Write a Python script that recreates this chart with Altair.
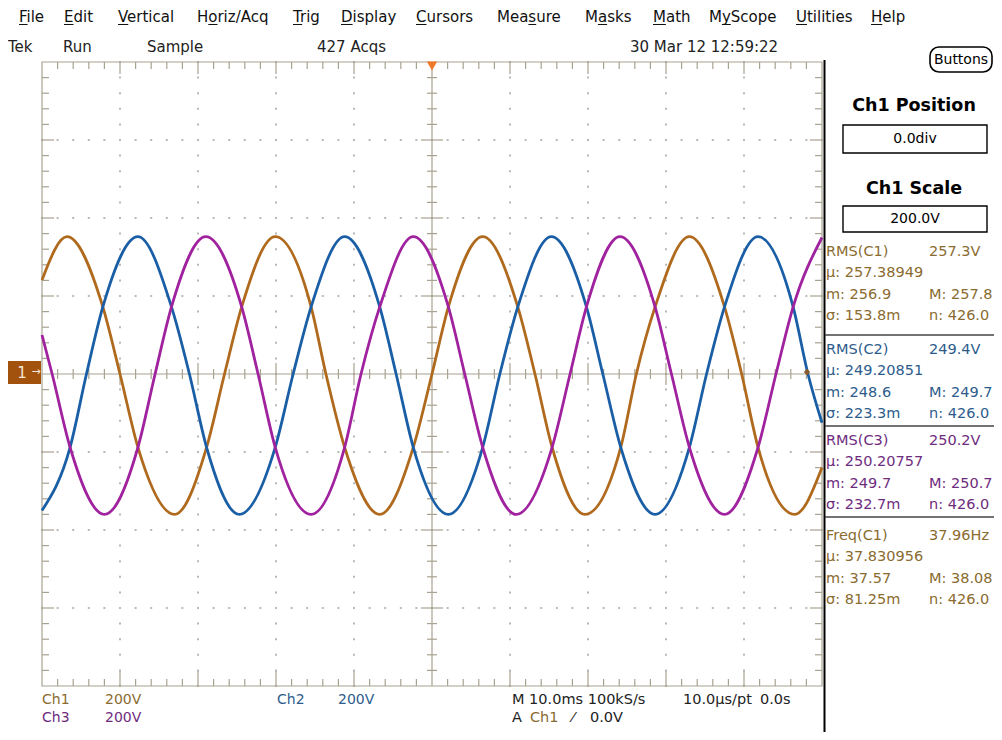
import altair as alt
import numpy as np
import pandas as pd

# ---------------- waveform readings (time in ms, amplitude in V) ----------------
ch1_t = [-50.0, -46.8, -42.2, -40.0, -37.7, -33.0, -28.9, -26.6, -24.4, -20.1,
         -15.5, -13.6, -11.2, -6.7, -2.4, 0.0, 2.1, 6.5, 11.0, 13.2,
         15.4, 19.6, 24.2, 26.2, 28.6, 33.0, 37.5, 39.7, 41.8, 46.5, 50.0]
ch1_v = [241, 352, 172, 0, -188, -360, -188, 0, 172, 352,
         172, 0, -188, -360, -188, 0, 172, 352, 172, 0,
         -188, -360, -188, 0, 172, 352, 172, 0, -188, -360, -240]

ch2_t = [-50.0, -46.4, -44.3, -42.2, -37.7, -33.4, -31.1, -28.9, -24.7, -20.1,
         -17.8, -15.5, -11.2, -6.7, -4.6, -2.4, 2.1, 6.5, 8.7, 11.0,
         15.3, 19.8, 21.9, 24.2, 28.6, 33.0, 35.2, 37.5, 41.8, 46.3, 48.2, 50.0]
ch2_v = [-350, -188, 0, 172, 352, 172, 0, -188, -360, -188,
         0, 172, 352, 172, 0, -188, -360, -188, 0, 172,
         352, 172, 0, -188, -360, -188, 0, 172, 352, 172, 0, -125]

ch3_t = [-50.0, -48.7, -46.4, -42.0, -37.7, -35.5, -33.4, -29.0, -24.4, -22.3,
         -20.1, -15.5, -11.2, -9.1, -6.7, -2.4, 2.1, 4.2, 6.5, 10.8,
         15.4, 17.7, 19.8, 24.1, 28.6, 30.7, 33.0, 37.5, 41.8, 44.1, 46.3, 50.0]
ch3_v = [100, 0, -188, -360, -188, 0, 172, 352, 172, 0,
         -188, -360, -188, 0, 172, 352, 172, 0, -188, -360,
         -188, 0, 172, 352, 172, 0, -188, -360, -188, 0, 172, 350]

channels = ["Ch1", "Ch2", "Ch3"]
trace_colors = ["#B06A1E", "#1A5FA6", "#A0229E"]

# ---------------- readouts ----------------
meas_title = ["RMS(C1)", "RMS(C2)", "RMS(C3)", "Freq(C1)"]
meas_value = ["257.3V", "249.4V", "250.2V", "37.96Hz"]
meas_mean = ["257.38949", "249.20851", "250.20757", "37.830956"]
meas_min = ["256.9", "248.6", "249.7", "37.57"]
meas_max = ["257.8", "249.7", "250.7", "38.08"]
meas_sd = ["153.8m", "223.3m", "232.7m", "81.25m"]
meas_n = ["426.0", "426.0", "426.0", "426.0"]

menu_items = ["File", "Edit", "Vertical", "Horiz/Acq", "Trig", "Display", "Cursors",
              "Measure", "Masks", "Math", "MyScope", "Utilities", "Help"]
menu_x = [19, 64, 118, 197, 293, 341, 416, 497, 585, 653, 709, 796, 871]
# mnemonic underline: (offset from item start, underline length) in px
menu_ul = [(0, 8.6), (0, 9.5), (0, 10.3), (11.3, 9.2), (0, 9.2), (0, 11.6), (0, 10.5),
           (31.4, 7.8), (12.9, 9.2), (0, 12.9), (12.9, 8.9), (0, 11.0), (0, 11.3)]

status_items = ["Tek", "Run", "Sample", "427 Acqs", "30 Mar 12 12:59:22"]
status_x = [8, 63, 147, 317, 630]

# ---------------- layout constants ----------------
W, H = 780, 624          # graticule size (10 x 8 divisions of 78 px)
X0, Y0 = 42, 62          # page position of graticule origin
GRAT = "#A8A290"
DOT = "#B8B8B8"
C1T, C2T, C3T = "#8A6B30", "#2D5C8C", "#6E2C7E"
FONT = "DejaVu Sans"

xs = alt.Scale(domain=[-50, 50], nice=False, zero=False)
ys = alt.Scale(domain=[-800, 800], nice=False, zero=False)
ONE = pd.DataFrame({"k": [0]})


def txt(s, x, y, color="#000000", size=15, weight="normal", align="left"):
    return alt.Chart(pd.DataFrame({"s": [s]})).mark_text(
        align=align, baseline="middle", font=FONT, fontSize=size,
        fontWeight=weight, color=color
    ).encode(x=alt.value(x - X0), y=alt.value(y - Y0), text="s:N")


def prule(x1, y1, x2, y2, color, width=1.0):
    return alt.Chart(ONE).mark_rule(color=color, strokeWidth=width).encode(
        x=alt.value(x1 - X0), y=alt.value(y1 - Y0),
        x2=alt.value(x2 - X0), y2=alt.value(y2 - Y0))


def prect(x1, y1, x2, y2, fill, stroke=None, sw=0, radius=0):
    kw = dict(fill=fill, cornerRadius=radius)
    if stroke:
        kw.update(stroke=stroke, strokeWidth=sw)
    return alt.Chart(ONE).mark_rect(**kw).encode(
        x=alt.value(x1 - X0), y=alt.value(y1 - Y0),
        x2=alt.value(x2 - X0), y2=alt.value(y2 - Y0))


layers = []

# ---------------- graticule ----------------
gx = pd.DataFrame({"t": [-40, -30, -20, -10, 10, 20, 30, 40]})
gy = pd.DataFrame({"v": [-600, -400, -200, 200, 400, 600]})
layers.append(alt.Chart(gx).mark_rule(color=DOT, strokeWidth=2, strokeDash=[2, 13.6]).encode(
    x=alt.X("t:Q", scale=xs, axis=None), y=alt.value(-1), y2=alt.value(H + 1)))
layers.append(alt.Chart(gy).mark_rule(color=DOT, strokeWidth=2, strokeDash=[2, 13.6]).encode(
    y=alt.Y("v:Q", scale=ys, axis=None), x=alt.value(-1), x2=alt.value(W + 1)))

layers.append(alt.Chart(ONE).mark_rect(fillOpacity=0, stroke=GRAT, strokeWidth=1.2).encode(
    x=alt.value(0), x2=alt.value(W), y=alt.value(0), y2=alt.value(H)))
layers.append(alt.Chart(pd.DataFrame({"t": [0]})).mark_rule(color=GRAT, strokeWidth=1.2).encode(
    x=alt.X("t:Q", scale=xs, axis=None), y=alt.value(0), y2=alt.value(H)))
layers.append(alt.Chart(pd.DataFrame({"v": [0]})).mark_rule(color=GRAT, strokeWidth=1.2).encode(
    y=alt.Y("v:Q", scale=ys, axis=None), x=alt.value(0), x2=alt.value(W)))

t_minor = pd.DataFrame({"t": [v for v in range(-48, 50, 2) if v % 10 != 0]})
t_major = pd.DataFrame({"t": [v for v in range(-40, 50, 10) if v != 0]})
v_minor = pd.DataFrame({"v": [v for v in range(-760, 800, 40) if v % 200 != 0]})
v_major = pd.DataFrame({"v": [v for v in range(-600, 800, 200) if v != 0]})


def xticks(df, y1, y2):
    return alt.Chart(df).mark_rule(color=GRAT, strokeWidth=1.2).encode(
        x=alt.X("t:Q", scale=xs, axis=None), y=alt.value(y1), y2=alt.value(y2))


def yticks(df, x1, x2):
    return alt.Chart(df).mark_rule(color=GRAT, strokeWidth=1.2).encode(
        y=alt.Y("v:Q", scale=ys, axis=None), x=alt.value(x1), x2=alt.value(x2))


layers += [
    xticks(t_minor, 0, 7), xticks(t_major, 0, 12),
    xticks(t_minor, H - 7, H), xticks(t_major, H - 15, H),
    xticks(t_minor, H / 2 - 5, H / 2 + 5), xticks(t_major, H / 2 - 11, H / 2 + 11),
    yticks(v_minor, 0, 7), yticks(v_major, 0, 12),
    yticks(v_minor, W - 7, W), yticks(v_major, W - 12, W),
    yticks(v_minor, W / 2 - 5, W / 2 + 5), yticks(v_major, W / 2 - 11, W / 2 + 11),
]

# ---------------- waveforms ----------------
wave = pd.DataFrame({
    "t": ch1_t + ch2_t + ch3_t,
    "v": ch1_v + ch2_v + ch3_v,
    "ch": ["Ch1"] * len(ch1_t) + ["Ch2"] * len(ch2_t) + ["Ch3"] * len(ch3_t),
})
layers.append(alt.Chart(wave).mark_line(interpolate="monotone", strokeWidth=2.8).encode(
    x=alt.X("t:Q", scale=xs, axis=None),
    y=alt.Y("v:Q", scale=ys, axis=None),
    color=alt.Color("ch:N", scale=alt.Scale(domain=channels, range=trace_colors), legend=None),
))

# markers: trigger position, channel 1 ground, trigger level
layers.append(alt.Chart(ONE).mark_point(shape="triangle-down", filled=True, size=110,
                                        color="#F07828", opacity=1).encode(
    x=alt.value(432 - X0), y=alt.value(66 - Y0)))
layers.append(prect(8, 361, 41, 384, "#A2520C"))
layers.append(txt("1", 22, 373, color="#F4E6D8", size=15, align="center"))
layers.append(txt("\u2192", 36, 372, color="#F4E6D8", size=11, align="center"))
layers.append(alt.Chart(ONE).mark_point(shape="diamond", filled=True, size=40,
                                        color="#8A5A2A", opacity=1).encode(
    x=alt.value(807 - X0), y=alt.value(372 - Y0)))

# ---------------- menu / status rows ----------------
for s, x, (off, ln) in zip(menu_items, menu_x, menu_ul):
    layers.append(txt(s, x, 16.5, color="#111111", size=15))
    layers.append(prule(x + off, 24.5, x + off + ln, 24.5, "#111111", 1))
for s, x in zip(status_items, status_x):
    layers.append(txt(s, x, 47, color="#222222", size=15))
layers.append(prect(930, 47, 992, 72, "#FFFFFF", stroke="#000000", sw=1.6, radius=9))
layers.append(txt("Buttons", 961, 60, color="#000000", size=14, align="center"))

# ---------------- right panel ----------------
layers.append(prule(824.5, 60, 824.5, 740, "#000000", 2))
layers.append(txt("Ch1 Position", 914, 106, size=17.5, weight="bold", align="center"))
layers.append(prect(843, 125, 987, 153, "#FFFFFF", stroke="#000000", sw=1.4))
layers.append(txt("0.0div", 915, 139, size=14, align="center"))
layers.append(txt("Ch1 Scale", 914, 189, size=17.5, weight="bold", align="center"))
layers.append(prect(843, 206, 987, 232, "#FFFFFF", stroke="#000000", sw=1.4))
layers.append(txt("200.0V", 915, 219, size=14, align="center"))

for ysep in [335, 426, 517]:
    layers.append(prule(825, ysep, 1000, ysep, "#444444", 1.6))

meas_color = [C1T, C2T, C3T, C1T]
meas_top = [252, 350, 441, 536]
MS = 14.5
for i in range(4):
    y = meas_top[i]
    c = meas_color[i]
    layers.append(txt(meas_title[i], 826, y, color=c, size=MS))
    layers.append(txt(meas_value[i], 929, y, color=c, size=MS))
    layers.append(txt("\u00b5: " + meas_mean[i], 826, y + 21, color=c, size=MS))
    layers.append(txt("m: " + meas_min[i], 826, y + 43, color=c, size=MS))
    layers.append(txt("M: " + meas_max[i], 929, y + 43, color=c, size=MS))
    layers.append(txt("\u03c3: " + meas_sd[i], 826, y + 64, color=c, size=MS))
    layers.append(txt("n: " + meas_n[i], 929, y + 64, color=c, size=MS))

# ---------------- bottom settings ----------------
layers += [
    txt("Ch1", 42, 700, color=C1T, size=14), txt("200V", 105, 700, color=C1T, size=14),
    txt("Ch3", 42, 718, color=C3T, size=14), txt("200V", 105, 718, color=C3T, size=14),
    txt("Ch2", 277, 700, color=C2T, size=14), txt("200V", 338, 700, color=C2T, size=14),
    txt("M 10.0ms 100kS/s", 512, 700, color="#222222", size=14.5),
    txt("10.0\u00b5s/pt", 683, 700, color="#222222", size=14.5),
    txt("0.0s", 760, 700, color="#222222", size=14.5),
    txt("A", 512, 718, color="#222222", size=14.5),
    txt("Ch1", 530, 718, color=C1T, size=14.5),
    txt("\u2044", 572, 718, color="#222222", size=14.5),
    txt("0.0V", 590, 718, color="#222222", size=14.5),
]

chart = alt.layer(*layers).properties(
    width=W, height=H,
    padding={"left": 34, "top": 54, "right": 172, "bottom": 46},
    autosize=alt.AutoSizeParams(type="none"),
    background="#FFFFFF",
).configure_view(stroke=None)

chart.save("out.html", embed_options={"renderer": "svg", "actions": False})
